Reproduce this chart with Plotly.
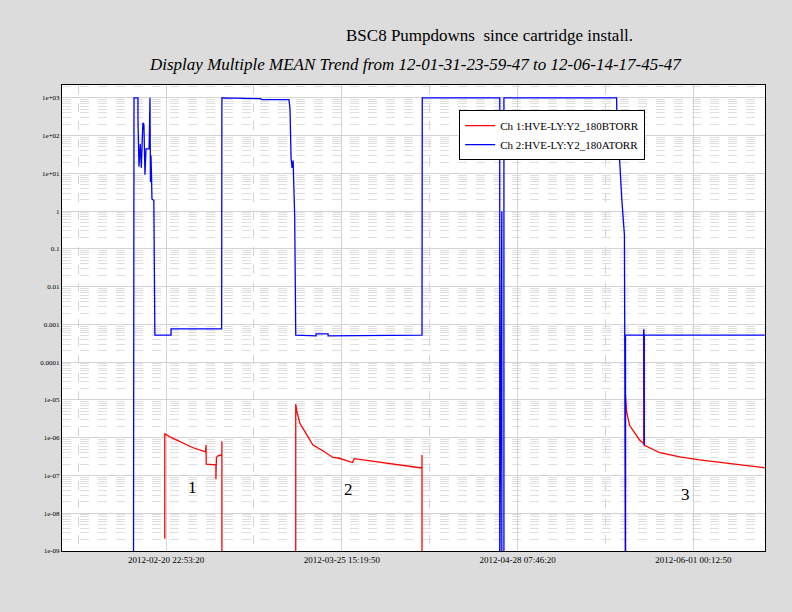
import plotly.graph_objects as go
import pandas as pd
import math

start = pd.Timestamp("2012-01-31 23:59:47")
end = pd.Timestamp("2012-06-14 17:45:47")

# Ch 2 (blue): days since start, pressure (torr)
blue_days = [13.7, 13.8, 14.56, 14.56, 14.75, 15.0, 15.2, 15.5, 15.7, 15.9, 16.1, 16.7, 16.86, 16.95, 17.05,
             17.15, 17.24, 17.6, 17.8, 20.9, 20.9, 30.6, 30.65, 38.0, 38.3, 43.5, 43.7, 43.9, 44.1, 44.3,
             44.6, 44.8, 48.7, 48.7, 51.0, 51.0, 69.0, 69.05, 83.9, 83.9, 84.3, 84.3, 84.7, 84.7, 85.1,
             106.3, 106.4, 106.9, 107.3, 107.8, 108.0, 108.0, 108.0, 111.5, 111.5, 111.6, 111.6, 134.7]
blue_vals = [1e-10, 1000, 1000, 277, 14.9, 60, 14, 218, 200, 9.2, 44.5, 44.5, 1000, 5.9, 30,
             9, 2.1, 1.9, 5.2e-4, 5.2e-4, 7.6e-4, 7.6e-4, 1000, 950, 900, 900, 511, 25.8, 14, 22,
             0.71, 5.2e-4, 5.0e-4, 5.6e-4, 5.6e-4, 5.0e-4, 5.2e-4, 1000, 1000, 1e-10, 1.0, 1e-10, 1e-10, 1000, 1000,
             1000, 142, 20, 2.0, 0.23, 1e-10, 5.2e-4, 5.2e-4, 5.2e-4, 7.3e-4, 6.4e-7, 5.2e-4, 5.2e-4]

# Ch 1 (red)
red_days = [19.7, 19.7, 21, 23, 25, 27.5, 27.6, 27.65, 29.5, 29.5, 29.6, 29.9, 30.5, 30.65, 30.65, 30.65, None,
            44.8, 44.8, 45.0, 45.6, 46.5, 48.1, 50, 51.9, 53, 54, 55.7, 56, 58.4, 61, 64.75, 68.6, 69.0, 69.0, 69.0, None,
            108.0, 108.0, 108.2, 108.8, 110.7, 111.5, 111.5, 111.55, 114.6, 118.4, 122.2, 128, 134.7]
red_vals = [2.1e-9, 1.26e-6, 1.0e-6, 7.5e-7, 5.5e-7, 4.2e-7, 6.4e-7, 2.0e-7, 1.9e-7, 8e-8, 3e-7, 3.3e-7, 3.5e-7, 3.5e-7, 8.1e-7, 1e-10, None,
            1e-10, 7.8e-6, 5e-6, 2.4e-6, 1.5e-6, 6.4e-7, 4.5e-7, 3.0e-7, 2.9e-7, 2.6e-7, 2.2e-7, 2.8e-7, 2.5e-7, 2.2e-7, 1.9e-7, 1.6e-7, 1.6e-7, 3.5e-7, 1e-10, None,
            1e-10, 1.4e-5, 5e-6, 2.1e-6, 8.7e-7, 7e-7, 7.3e-4, 6.4e-7, 4.0e-7, 3.1e-7, 2.6e-7, 2.1e-7, 1.6e-7]

x_ticks = ["2012-02-20 22:53:20", "2012-03-25 15:19:50", "2012-04-28 07:46:20", "2012-06-01 00:12:50"]
y_tickvals = [1e3, 1e2, 1e1, 1, 0.1, 0.01, 0.001, 1e-4, 1e-5, 1e-6, 1e-7, 1e-8, 1e-9]
y_ticktext = ["1e+03", "1e+02", "1e+01", "1", "0.1", "0.01", "0.001", "0.0001", "1e-05", "1e-06", "1e-07", "1e-08", "1e-09"]
labels = [("1", 25.0, 4.7e-8), ("2", 55.0, 4.3e-8), ("3", 119.5, 3.2e-8)]

def todate(days):
    return [None if d is None else start + pd.Timedelta(days=d) for d in days]

xt = pd.to_datetime(x_ticks)
step = xt[1] - xt[0]
minor_vals = [xt[0] - step / 2] + [xt[i] + step / 2 for i in range(4)]

fig = go.Figure()
fig.add_trace(go.Scatter(x=todate(red_days), y=red_vals, mode="lines", line=dict(color="red", width=1.3),
                         name="Ch 1:HVE-LY:Y2_180BTORR", connectgaps=False))
fig.add_trace(go.Scatter(x=todate(blue_days), y=blue_vals, mode="lines", line=dict(color="blue", width=1.3),
                         name="Ch 2:HVE-LY:Y2_180ATORR"))

for t, d, v in labels:
    fig.add_annotation(x=start + pd.Timedelta(days=d), y=math.log10(v), text=t, showarrow=False,
                       font=dict(size=17, family="Liberation Serif", color="black"))

fig.add_annotation(x=0.608, y=1.107, xref="paper", yref="paper", xanchor="center", yanchor="middle",
                   text="BSC8 Pumpdowns  since cartridge install.",
                   showarrow=False, font=dict(size=17, family="Liberation Serif", color="black"))
fig.add_annotation(x=0.503, y=1.043, xref="paper", yref="paper", xanchor="center", yanchor="middle",
                   text="<i>Display Multiple MEAN Trend from 12-01-31-23-59-47 to 12-06-14-17-45-47</i>",
                   showarrow=False, font=dict(size=17, family="Liberation Serif", color="black"))

fig.update_layout(
    width=792, height=612, paper_bgcolor="#dcdcdc", plot_bgcolor="white",
    margin=dict(l=62, r=27, t=85, b=61),
    font=dict(family="Liberation Serif", size=8, color="black"),
    legend=dict(x=0.565, y=0.946, xanchor="left", yanchor="top", bgcolor="white", bordercolor="black",
                borderwidth=1, font=dict(size=11, family="Liberation Serif"), tracegroupgap=0,
                itemwidth=30),
    xaxis=dict(type="date", range=[start, end], tickvals=xt, ticktext=x_ticks, showgrid=True,
               gridcolor="#d3d3d3", showline=True, mirror=True, linecolor="black", linewidth=1,
               ticks="", tickfont=dict(size=9),
               minor=dict(tickvals=minor_vals, showgrid=True, griddash="dash", gridcolor="#d3d3d3")),
    yaxis=dict(type="log", range=[-9, 3.34], tickvals=y_tickvals, ticktext=y_ticktext, showgrid=True,
               gridcolor="#d3d3d3", showline=True, mirror=True, linecolor="black", linewidth=1, ticks="",
               tickfont=dict(size=7),
               minor=dict(dtick="D1", showgrid=True, griddash="dash", gridcolor="#dedede")),
)
fig.write_html("out.html", post_script="document.body.style.margin='0';",
               config={"displayModeBar": False})
